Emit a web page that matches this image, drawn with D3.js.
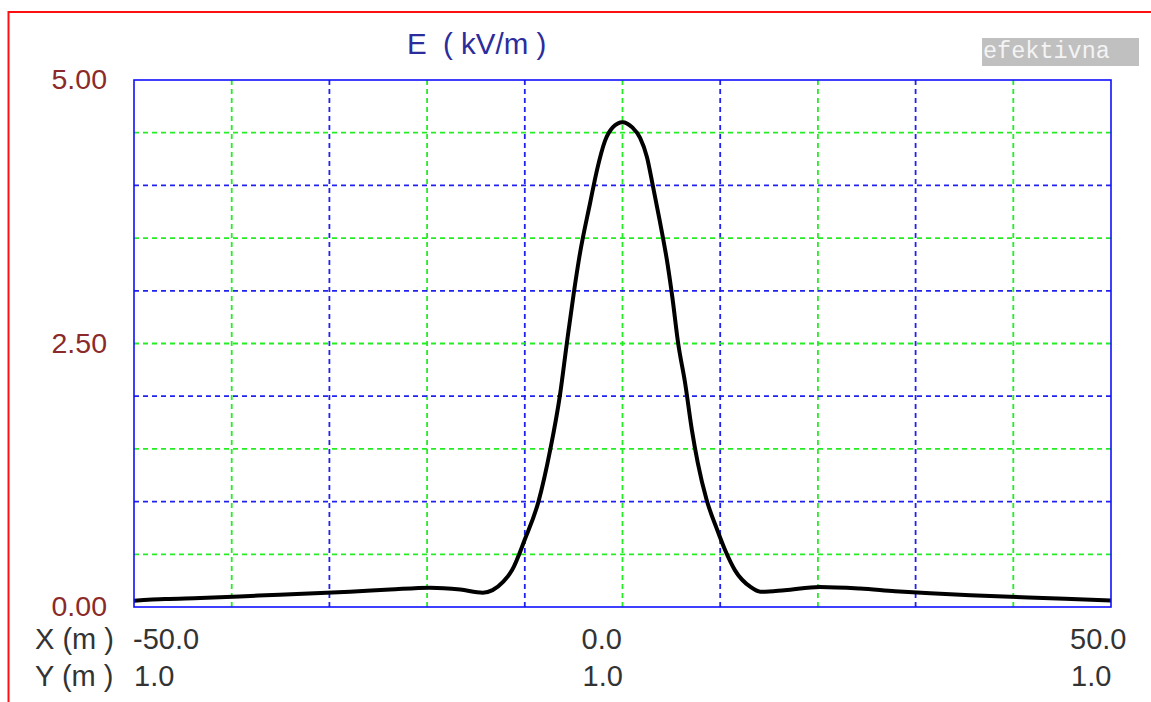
<!DOCTYPE html>
<html>
<head>
<meta charset="utf-8">
<script src="https://cdn.jsdelivr.net/npm/d3@7"></script>
<style>
  body { margin: 0; background: #fff; }
  text { font-family: "Liberation Sans", Arial, sans-serif; }
</style>
</head>
<body>
<script>
// distance along the profile (m) and field strength E (kV/m)
let distance = [-50, -46.8, -43.2, -39.2, -35.1, -31.5, -27.9, -23.8, -19.7, -16.6, -14.3, -13.3,
  -12.2, -11.3, -10.0, -8.6, -7.4, -6.4, -5.7, -5.0, -4.4, -3.3, -2.6, -1.8, -1.0, 0.0,
  1.0, 1.8, 2.5, 3.1, 3.8, 4.6, 5.1, 5.7, 6.4, 7.1, 7.7, 8.6, 9.7, 10.5, 11.5, 13.1,
  14.1, 16.6, 20.2, 24.3, 27.9, 31.5, 35.6, 39.7, 43.8, 47.3, 50];
let fieldE = [0.06, 0.075, 0.085, 0.10, 0.117, 0.13, 0.145, 0.165, 0.183, 0.165, 0.136, 0.16,
  0.24, 0.35, 0.64, 1.0, 1.49, 2.01, 2.50, 2.97, 3.33, 3.84, 4.15, 4.42, 4.55, 4.60,
  4.55, 4.45, 4.27, 4.00, 3.67, 3.26, 2.94, 2.50, 2.13, 1.68, 1.37, 1.02, 0.73, 0.54, 0.35, 0.19,
  0.145, 0.16, 0.19, 0.175, 0.15, 0.13, 0.112, 0.097, 0.083, 0.07, 0.062];

let yTicks = [0, 2.5, 5];
let yTickLabels = ["0.00", "2.50", "5.00"];
let xTicks = [-50, 0, 50];
let xTickLabels = ["-50.0", "0.0", "50.0"];
let yPosLabels = ["1.0", "1.0", "1.0"];

let title = "E  ( kV/m )";
let badge = "efektivna";

let width = 1151, height = 702;
let plot = {left: 134, right: 1111, top: 80, bottom: 607};

let svg = d3.select("body").append("svg")
    .attr("width", width)
    .attr("height", height);

// red frame (open at right and bottom)
svg.append("path")
    .attr("d", "M8.5," + height + "V12H" + width)
    .attr("fill", "none")
    .attr("stroke", "#ff1010")
    .attr("stroke-width", 2);

let x = d3.scaleLinear().domain([-50, 50]).range([plot.left, plot.right]);
let y = d3.scaleLinear().domain([0, 5]).range([plot.bottom, plot.top]);

let green = "#22ee22", blue = "#2222ee";

// grid
let grid = svg.append("g").attr("class", "grid");
grid.selectAll("line.v")
  .data(d3.range(-40, 50, 10))
  .enter().append("line")
    .attr("x1", d => x(d)).attr("x2", d => x(d))
    .attr("y1", plot.top).attr("y2", plot.bottom)
    .attr("stroke", d => Math.abs(d / 10) % 2 === 0 ? green : blue)
    .attr("stroke-width", 1.8)
    .attr("stroke-dasharray", "5,4");
grid.selectAll("line.h")
  .data(d3.range(1, 10).map(i => i / 2))
  .enter().append("line")
    .attr("y1", d => y(d)).attr("y2", d => y(d))
    .attr("x1", plot.left).attr("x2", plot.right)
    .attr("stroke", d => Math.round(d * 2) % 2 === 1 ? green : blue)
    .attr("stroke-width", 1.8)
    .attr("stroke-dasharray", "5,4");

// curve
let points = distance.map((d, i) => [d, fieldE[i]]);
let line = d3.line()
    .x(d => x(d[0]))
    .y(d => y(d[1]))
    .curve(d3.curveMonotoneX);

svg.append("path")
    .datum(points)
    .attr("d", line)
    .attr("fill", "none")
    .attr("stroke", "#000")
    .attr("stroke-width", 4)
    .attr("stroke-linejoin", "round");

// plot border
svg.append("rect")
    .attr("x", plot.left).attr("y", plot.top)
    .attr("width", plot.right - plot.left).attr("height", plot.bottom - plot.top)
    .attr("fill", "none")
    .attr("stroke", "#1010ff")
    .attr("stroke-width", 1.6);

// y tick labels
svg.selectAll("text.ytick")
  .data(yTicks)
  .enter().append("text")
    .attr("x", 107)
    .attr("y", d => y(d) + 9)
    .attr("text-anchor", "end")
    .attr("fill", "#8b2a2a")
    .style("font-size", "28.5px")
    .text((d, i) => yTickLabels[i]);

// title
svg.append("text")
    .attr("x", 407).attr("y", 54)
    .attr("fill", "#2c2c9c")
    .style("font-size", "29.5px")
    .style("white-space", "pre")
    .text(title);

// badge
svg.append("rect")
    .attr("x", 982).attr("y", 38)
    .attr("width", 157).attr("height", 28)
    .attr("fill", "#c0c0c0");
svg.append("text")
    .attr("x", 983).attr("y", 58)
    .attr("fill", "#f4f4f4")
    .style("font-family", "'Liberation Mono', 'Courier New', monospace")
    .style("font-size", "23.5px")
    .text(badge);

// bottom labels
let lab = "#333";
svg.append("text").attr("x", 35).attr("y", 649).attr("fill", lab)
    .style("font-size", "29px").style("white-space", "pre").text("X (m )");
svg.append("text").attr("x", 35).attr("y", 686).attr("fill", lab)
    .style("font-size", "29px").style("white-space", "pre").text("Y (m )");

let labelX = d => d === xTicks[0] ? x(d) - 1 : x(d) - 41;
svg.selectAll("text.xtick")
  .data(xTicks)
  .enter().append("text")
    .attr("x", labelX)
    .attr("y", 649)
    .attr("fill", lab)
    .style("font-size", "29px")
    .text((d, i) => xTickLabels[i]);
svg.selectAll("text.ypos")
  .data(xTicks)
  .enter().append("text")
    .attr("x", d => labelX(d) + 1)
    .attr("y", 686)
    .attr("fill", lab)
    .style("font-size", "29px")
    .text((d, i) => yPosLabels[i]);
</script>
</body>
</html>
